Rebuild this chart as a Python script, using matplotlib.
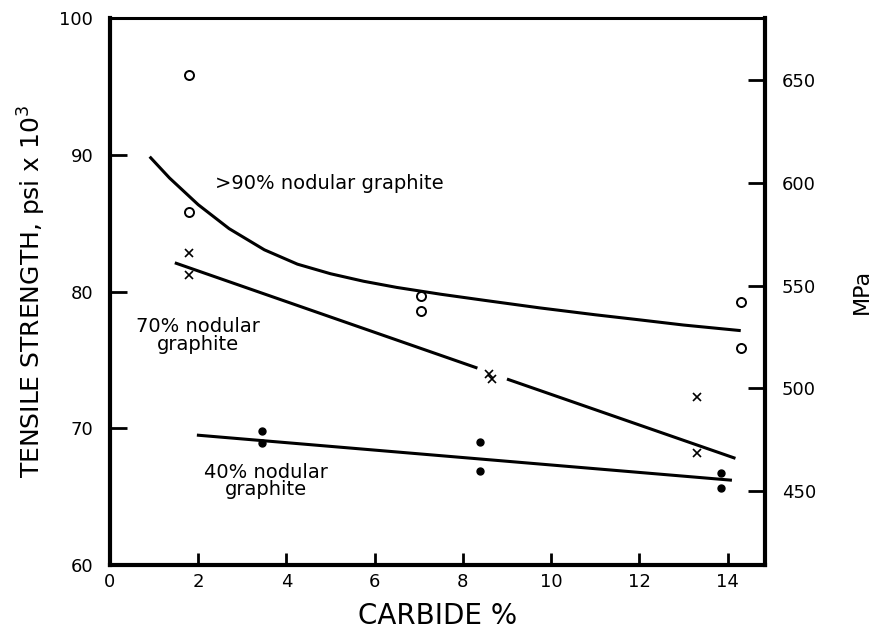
import matplotlib
matplotlib.use("Agg")
import matplotlib.pyplot as plt

# Data points (carbide %, tensile strength ksi)
g90_x = [1.8, 1.8, 7.05, 7.05, 14.3, 14.3]
g90_y = [95.8, 85.8, 79.7, 78.6, 79.2, 75.9]
g70_x = [1.8, 1.8, 8.6, 8.65, 13.3, 13.3]
g70_y = [82.8, 81.2, 74.0, 73.6, 72.3, 68.2]
g40_x = [3.45, 3.45, 8.4, 8.4, 13.85, 13.85]
g40_y = [69.8, 68.9, 69.0, 66.9, 66.7, 65.6]

# Trend curves
c90_x = [0.9, 1.35, 2.0, 2.7, 3.5, 4.25, 5.0, 5.75, 6.5, 7.5, 8.5, 9.75, 11.0, 12.0, 13.0, 14.3]
c90_y = [89.86, 88.3, 86.35, 84.6, 83.05, 82.0, 81.3, 80.75, 80.3, 79.8, 79.35, 78.8, 78.3, 77.93, 77.55, 77.14]
c70a_x = [1.47, 8.33]
c70a_y = [82.1, 74.4]
c70b_x = [9.0, 14.18]
c70b_y = [73.6, 67.8]
c40_x = [1.97, 14.1]
c40_y = [69.5, 66.2]

x_ticks = [0, 2, 4, 6, 8, 10, 12, 14]
y_ticks = [60, 70, 80, 90, 100]
mpa_ticks = [450, 500, 550, 600, 650]

plt.rcParams['font.family'] = ['DejaVu Sans']

fig = plt.figure(figsize=(8.77, 6.34), dpi=100)
ax = fig.add_axes([0.1254, 0.1088, 0.8723 - 0.1254, 0.9716 - 0.1088])

lw = 2.2
for cx, cy in [(c90_x, c90_y), (c70a_x, c70a_y), (c70b_x, c70b_y), (c40_x, c40_y)]:
    ax.plot(cx, cy, color='black', lw=lw, solid_capstyle='butt', solid_joinstyle='round')

ax.plot(g90_x, g90_y, linestyle='none', marker='o', ms=6.5, mfc='white', mec='black', mew=1.4)
ax.plot(g70_x, g70_y, linestyle='none', marker='x', ms=5.5, mec='black', mew=1.2)
ax.plot(g40_x, g40_y, linestyle='none', marker='o', ms=5, mfc='black', mec='black')

ax.set_xlim(0, 14.85)
ax.set_ylim(60, 100)
ax.set_xticks(x_ticks)
ax.set_yticks(y_ticks)

for s in ax.spines.values():
    s.set_linewidth(3)
ax.spines['top'].set_linewidth(2.2)

ax.tick_params(axis='x', direction='in', length=9, width=2, labelsize=13, pad=6, colors='black')
ax.tick_params(axis='y', direction='in', length=12, width=2, labelsize=13, pad=12)
ax.yaxis.set_ticks_position('left')
ax.xaxis.set_ticks_position('bottom')

ax.set_xlabel('CARBIDE %', fontsize=20, labelpad=8)
ax.set_ylabel('TENSILE STRENGTH, psi x 10$^3$', fontsize=18, labelpad=8)

ax.text(2.38, 87.9, '>90% nodular graphite', fontsize=14, ha='left', va='center')
ax.text(2.0, 76.8, '70% nodular\ngraphite', fontsize=14, ha='center', va='center', linespacing=0.9)
ax.text(3.54, 66.15, '40% nodular\ngraphite', fontsize=14, ha='center', va='center', linespacing=0.9)

ax2 = ax.twinx()
ax2.set_ylim(414.1, 680.1)
ax2.set_yticks(mpa_ticks)
ax2.tick_params(axis='y', direction='in', length=12, width=2, labelsize=13, pad=12)
for s in ax2.spines.values():
    s.set_visible(False)
ax2.set_ylabel('MPa', fontsize=16, labelpad=26)

fig.savefig('out.png', dpi=100)
